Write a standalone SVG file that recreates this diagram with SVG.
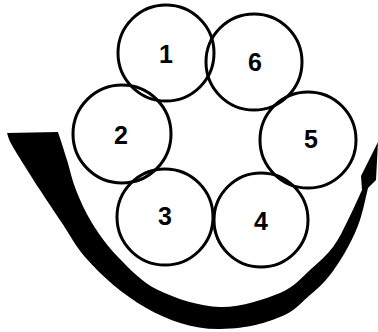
<svg xmlns="http://www.w3.org/2000/svg" width="378" height="332" viewBox="0 0 378 332">
<style>
.c{fill:none;stroke:#000;stroke-width:3}
.t{font-family:"Liberation Sans",Arial,sans-serif;font-weight:bold;font-size:25px;text-anchor:middle;fill:#000}
</style>
<rect width="378" height="332" fill="#fff"/>
<g id="connectors">
<path fill="#000" d="M58,132 C59.5,136.7 64,150.3 67,160 C70,169.7 71.8,179.5 76,190 C80.2,200.5 85,211.8 92,223 C99,234.2 107,245.8 118,257 C129,268.2 141,281.7 158,290 C175,298.3 199.7,306.5 220,307 C240.3,307.5 265,299.2 280,293 C295,286.8 301.2,277.7 310,270 C318.8,262.3 326.7,255.3 333,247 C339.3,238.7 343.2,229.5 348,220 C352.8,210.5 359.7,195 362,190 L361,176 L378,142 L376,180 L368,188 C366.7,193.3 363.3,210.2 360,220 C356.7,229.8 353,237.8 348,247 C343,256.2 336.3,267 330,275 C323.7,283 318.3,288 310,295 C301.7,302 295,311.3 280,317 C265,322.7 250,328.4 220,329 C170,330 120,297 85,257 C75.3,245.8 69.5,234.2 62,223 C54.5,211.8 48.2,202.7 40,190 C31.8,177.3 18.5,156.5 13,147 C7.5,137.5 8,135.3 7,133 Z"/>
</g>
<g id="n1"><circle class="c" cx="166" cy="53" r="48"/><text class="t" x="166" y="63">1</text></g>
<g id="n6"><circle class="c" cx="254" cy="62" r="48"/><text class="t" x="255" y="71">6</text></g>
<g id="n2"><circle class="c" cx="122" cy="134" r="49"/><text class="t" x="121" y="144">2</text></g>
<g id="n5"><circle class="c" cx="308" cy="140" r="48"/><text class="t" x="311" y="148">5</text></g>
<g id="n3"><circle class="c" cx="165" cy="217" r="48"/><text class="t" x="165" y="225">3</text></g>
<g id="n4"><circle class="c" cx="261" cy="220" r="47"/><text class="t" x="261" y="230">4</text></g>
</svg>
